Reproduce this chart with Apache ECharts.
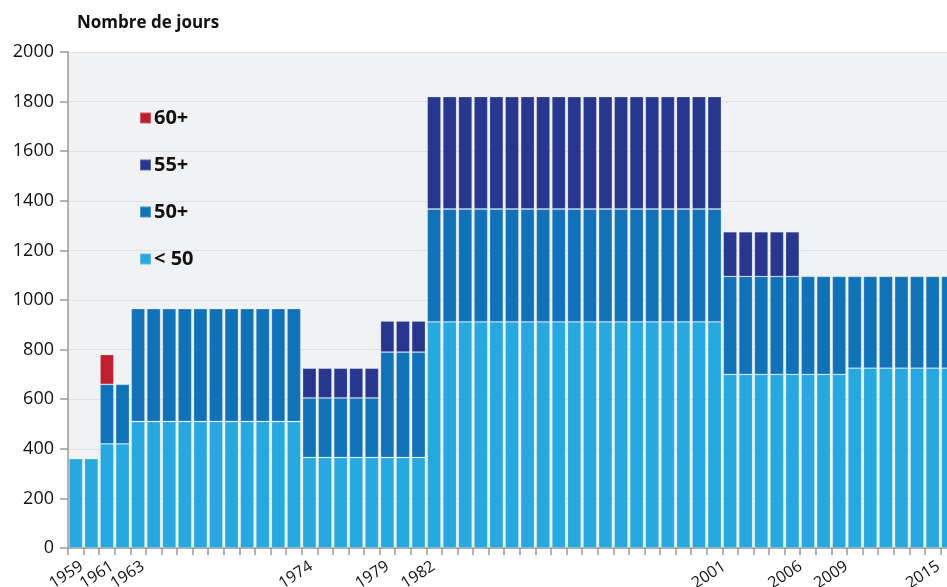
<!DOCTYPE html>
<html>
<head>
<meta charset="utf-8">
<script src="https://cdn.jsdelivr.net/npm/echarts@6/dist/echarts.min.js"></script>
<style>
  html, body { margin: 0; padding: 0; background: #fff; }
  #chart { width: 947px; height: 587px; }
</style>
</head>
<body>
<div id="chart"></div>
<script>
// années
var years = ['1959', '1960', '1961', '1962', '1963', '1964', '1965', '1966', '1967', '1968',
  '1969', '1970', '1971', '1972', '1973', '1974', '1975', '1976', '1977', '1978',
  '1979', '1980', '1981', '1982', '1983', '1984', '1985', '1986', '1987', '1988',
  '1989', '1990', '1991', '1992', '1993', '1994', '1995', '1996', '1997', '1998',
  '1999', '2000', '2001', '2002', '2003', '2004', '2005', '2006', '2007', '2008',
  '2009', '2010', '2011', '2012', '2013', '2014', '2015'];

// années affichées sur l'axe
var shownYears = ['1959', '1961', '1963', '1974', '1979', '1982', '2001', '2006', '2009', '2015'];

// < 50
var under50 = [360, 360, 420, 420,
  510, 510, 510, 510, 510, 510, 510, 510, 510, 510, 510,
  365, 365, 365, 365, 365,
  365, 365, 365,
  912, 912, 912, 912, 912, 912, 912, 912, 912, 912, 912, 912, 912, 912, 912, 912, 912, 912, 912,
  700, 700, 700, 700, 700,
  700, 700, 700,
  725, 725, 725, 725, 725, 725, 725];

// 50+
var from50 = [null, null, 240, 240,
  455, 455, 455, 455, 455, 455, 455, 455, 455, 455, 455,
  240, 240, 240, 240, 240,
  425, 425, 425,
  455, 455, 455, 455, 455, 455, 455, 455, 455, 455, 455, 455, 455, 455, 455, 455, 455, 455, 455,
  395, 395, 395, 395, 395,
  395, 395, 395,
  370, 370, 370, 370, 370, 370, 370];

// 55+
var from55 = [null, null, null, null,
  null, null, null, null, null, null, null, null, null, null, null,
  120, 120, 120, 120, 120,
  125, 125, 125,
  453, 453, 453, 453, 453, 453, 453, 453, 453, 453, 453, 453, 453, 453, 453, 453, 453, 453, 453,
  180, 180, 180, 180, 180,
  null, null, null,
  null, null, null, null, null, null, null];

// 60+
var from60 = [null, null, 120, null,
  null, null, null, null, null, null, null, null, null, null, null,
  null, null, null, null, null,
  null, null, null,
  null, null, null, null, null, null, null, null, null, null, null, null, null, null, null, null, null, null, null,
  null, null, null, null, null,
  null, null, null,
  null, null, null, null, null, null, null];

var chart = echarts.init(document.getElementById('chart'));
var font = '"Open Sans", "Noto Sans", sans-serif';

function barSeries(name, data, color) {
  return {
    name: name,
    type: 'bar',
    stack: 'jours',
    data: data,
    barCategoryGap: '12%',
    itemStyle: {
      color: color,
      borderColor: 'rgba(255,255,255,0.25)',
      borderWidth: 0.8
    },
    emphasis: { disabled: true }
  };
}

var option = {
  animation: false,
  textStyle: { fontFamily: font },
  title: {
    text: 'Nombre de jours',
    left: 72,
    top: 10,
    textStyle: { fontSize: 17, fontWeight: 'bold', color: '#111', fontFamily: font }
  },
  color: ['#25a9e0', '#1073ba', '#27368f', '#c01f2e'],
  legend: {
    data: ['60+', '55+', '50+', '< 50'],
    orient: 'vertical',
    left: 134,
    top: 103,
    itemWidth: 11,
    itemHeight: 11,
    itemGap: 27,
    icon: 'rect',
    selectedMode: false,
    textStyle: { fontSize: 20, fontWeight: 'bold', color: '#111', fontFamily: font, padding: [0, 0, 0, -2] }
  },
  grid: [
    {
      left: 68,
      width: 888,
      top: 52,
      bottom: 39,
      outerBoundsMode: 'none',
      show: true,
      backgroundColor: '#f1f2f4',
      borderWidth: 0
    },
    // grille des libellés d'années (pas légèrement plus serré)
    {
      left: 74,
      width: 872,
      top: 52,
      bottom: 39,
      outerBoundsMode: 'none'
    }
  ],
  xAxis: [
    {
      type: 'category',
      data: years,
      axisLine: { lineStyle: { color: '#9a9a9a', width: 1.5 } },
      axisTick: { show: true, interval: 0, length: 7, lineStyle: { color: '#9a9a9a', width: 1.5 } },
      axisLabel: { show: false }
    },
    {
      type: 'category',
      gridIndex: 1,
      data: years,
      axisLine: { show: false },
      axisTick: { show: false },
      axisLabel: {
        rotate: 33,
        fontSize: 16,
        color: '#111',
        margin: 17,
        interval: function (i, v) {
          return shownYears.indexOf(v) >= 0;
        }
      }
    }
  ],
  yAxis: [
    {
      type: 'value',
      min: 0,
      max: 2000,
      interval: 200,
      axisLine: { show: true, lineStyle: { color: '#9a9a9a', width: 1.5 } },
      axisTick: { show: true, length: 8, lineStyle: { color: '#9a9a9a', width: 1.5 } },
      axisLabel: {
        fontSize: 18,
        color: '#111',
        margin: 14,
        formatter: function (v) { return String(v); }
      },
      splitLine: { lineStyle: { color: '#e1e2e5', width: 1 } }
    },
    {
      type: 'value',
      gridIndex: 1,
      show: false
    }
  ],
  series: [
    barSeries('< 50', under50, '#25a9e0'),
    barSeries('50+', from50, '#1073ba'),
    barSeries('55+', from55, '#27368f'),
    barSeries('60+', from60, '#c01f2e')
  ]
};

chart.setOption(option);
</script>
</body>
</html>
